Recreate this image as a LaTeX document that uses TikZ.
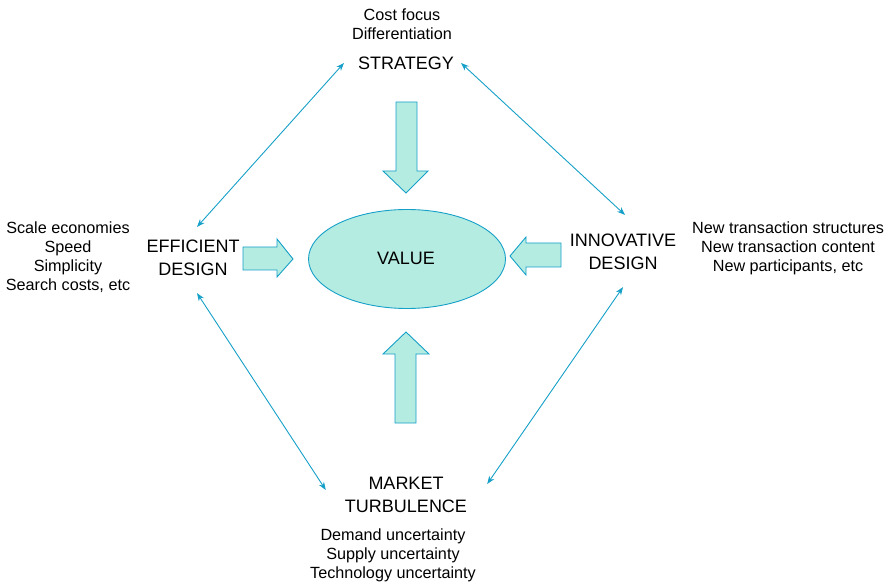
\documentclass[tikz,border=0pt]{standalone}
\usepackage{fontspec}
\setmainfont{Liberation Sans}
\usetikzlibrary{arrows.meta,shapes.geometric}

\definecolor{valueline}{RGB}{22,160,200}
\definecolor{valuefill}{RGB}{180,236,226}

\tikzset{
  head/.style={align=center,inner sep=0pt,font=\fontsize{18}{23}\selectfont},
  notes/.style={align=center,inner sep=0pt,font=\fontsize{16.2}{19}\selectfont},
  link/.style={valueline,line width=0.9pt,{Stealth[length=8pt,width=6pt]}-{Stealth[length=8pt,width=6pt]}},
  block/.style={draw=valueline,fill=valuefill,line width=0.9pt,line join=miter}
}

\begin{document}
\begin{tikzpicture}[x=1pt,y=-1pt]
  \useasboundingbox (0,0) rectangle (889,585);
  % centre
  \node[ellipse,draw=valueline,fill=valuefill,line width=0.9pt,minimum width=197pt,minimum height=99pt,inner sep=0pt] (value) at (407,259) {};
  \node[head] (valuetxt) at (406,258) {VALUE};
  % four corners
  \node[head] (strategy) at (406,63) {STRATEGY};
  \node[notes] (costs) at (402,24) {Cost focus\\Differentiation};
  \node[head] (efficient) at (193,258) {EFFICIENT\\DESIGN};
  \node[notes] (effnotes) at (68,257) {Scale economies\\Speed\\Simplicity\\Search costs, etc};
  \node[head] (innovative) at (623,252) {INNOVATIVE\\DESIGN};
  \node[notes] (innnotes) at (788,248) {New transaction structures\\New transaction content\\New participants, etc};
  \node[head] (market) at (406,495) {MARKET\\TURBULENCE};
  \node[notes] (uncert) at (393,555) {Demand uncertainty\\Supply uncertainty\\Technology uncertainty};
  % block arrows into value
  \draw[block] (396,102)--(417,102)--(417,171)--(428,171)--(406,193)--(383,171)--(396,171)--cycle;
  \draw[block] (395,423)--(416,423)--(416,354)--(429,354)--(406,332)--(383,354)--(395,354)--cycle;
  \draw[block] (243,247)--(277,247)--(277,239)--(293,259)--(277,277)--(277,270)--(243,270)--cycle;
  \draw[block] (561,243)--(526,243)--(526,237)--(510,256)--(526,275)--(526,267)--(561,267)--cycle;
  % thin links
  \draw[link] ([xshift=-14pt]strategy.west) -- ([xshift=4pt,yshift=13pt]efficient.north);
  \draw[link] ([xshift=7pt]strategy.east) -- ([xshift=2pt,yshift=19pt]innovative.north);
  \draw[link] ([xshift=4pt,yshift=-17pt]efficient.south) -- ([xshift=-19pt,yshift=5pt]market.west);
  \draw[link] ([xshift=0pt,yshift=-17pt]innovative.south) -- ([xshift=20pt,yshift=11pt]market.east);
\end{tikzpicture}
\end{document}
